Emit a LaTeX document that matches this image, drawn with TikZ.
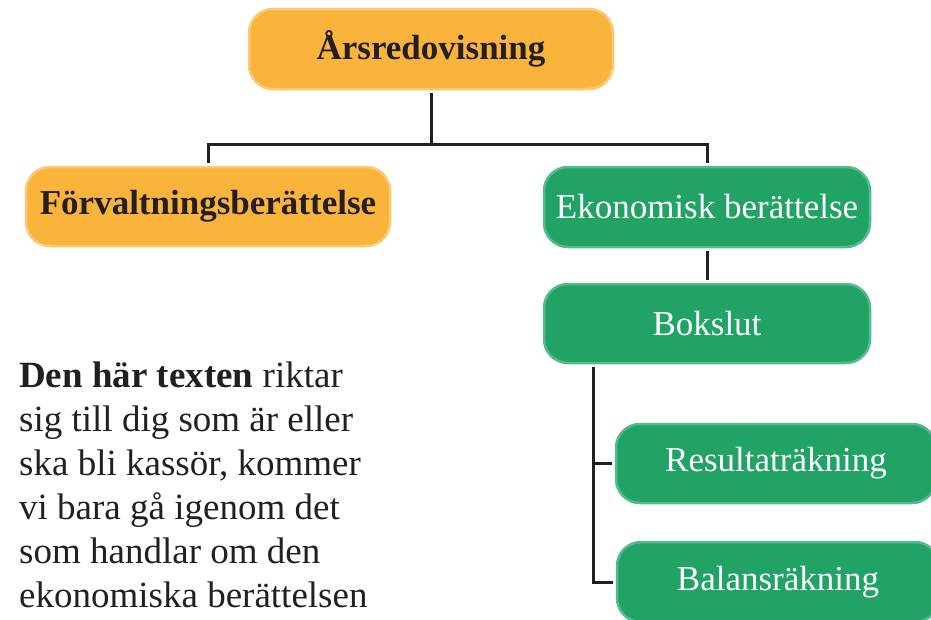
\documentclass[tikz,border=0pt]{standalone}
\usepackage{fontspec}
\setmainfont{Liberation Serif}
\definecolor{orfill}{HTML}{FBB43B}
\definecolor{oredge}{HTML}{FCC874}
\definecolor{grfill}{HTML}{21A366}
\definecolor{gredge}{HTML}{55BA8C}
\definecolor{ink}{HTML}{231F20}
\tikzset{
  box/.style={rounded corners=24pt, line width=2.5pt, outer sep=4pt, inner sep=0pt, align=center, font=\fontsize{35}{40}\selectfont},
  obox/.style={box, fill=orfill, draw=oredge, text=ink, font=\fontsize{35}{40}\selectfont\bfseries},
  gbox/.style={box, fill=grfill, draw=gredge, text=white},
  conn/.style={draw=ink, line width=3pt}
}
\begin{document}
\begin{tikzpicture}[x=1pt,y=-1pt]
\useasboundingbox (0,0) rectangle (931,619);
\node[obox, minimum width=364pt, minimum height=80pt] (ars) at (431,49) {Årsredovisning};
\node[obox, minimum width=364pt, minimum height=79pt] (forv) at (208,206.5) {Förvaltningsberättelse};
\node[gbox, minimum width=326pt, minimum height=80pt] (eko) at (707,207) {Ekonomisk berättelse};
\node[gbox, minimum width=326pt, minimum height=79pt] (bok) at (707,323.5) {Bokslut};
\node[gbox, minimum width=320pt, minimum height=79pt] (res) at (776,463.5) {Resultaträkning};
\node[gbox, minimum width=322pt, minimum height=80pt] (bal) at (778,582) {Balansräkning};
\coordinate (mid) at (431,144);
\coordinate (tx) at (593,0);
\draw[conn] (ars.south) -- (mid);
\draw[conn] (forv.north) |- (mid) -| (eko.north);
\draw[conn] (eko.south) -- (bok.north);
\draw[conn] (bok.south -| tx) |- (res.west);
\draw[conn] (bok.south -| tx) |- (bal.west);
\node[anchor=north west, inner sep=0pt, align=left, text=ink, font=\fontsize{37}{44}\selectfont] (para) at (19,362)
{\textbf{Den här texten} riktar\\sig till dig som är eller\\ska bli kassör, kommer\\vi bara gå igenom det\\som handlar om den\\ekonomiska berättelsen};
\end{tikzpicture}
\end{document}
